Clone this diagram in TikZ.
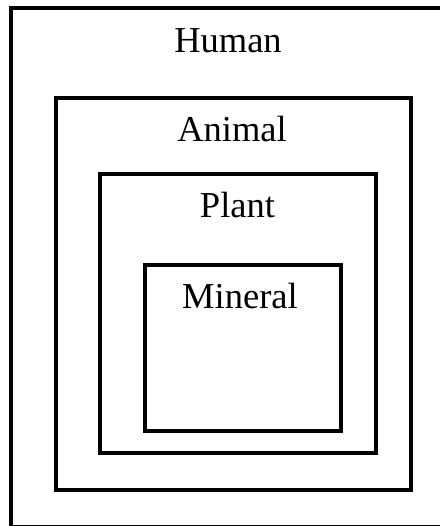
\documentclass[tikz,border=0pt]{standalone}
\usepackage{fontspec}
\setmainfont{Liberation Serif}
\begin{document}
\begin{tikzpicture}[x=1pt,y=-1pt,
  box/.style={draw=black,line width=4pt,line join=miter},
  lbl/.style={anchor=base,inner sep=0pt,font=\fontsize{36.5}{40}\selectfont}]
\useasboundingbox (0,0) rectangle (439,526);
\draw[box] (11,8) rectangle (442,527);
\draw[box] (56,98) rectangle (410.5,490);
\draw[box] (100,174) rectangle (376,453);
\draw[box] (144.5,265) rectangle (341,431);
\node[lbl] (human) at (228,53) {Human};
\node[lbl] (animal) at (232,142) {Animal};
\node[lbl] (plant) at (237.5,218) {Plant};
\node[lbl] (mineral) at (240,308) {Mineral};
\end{tikzpicture}
\end{document}
